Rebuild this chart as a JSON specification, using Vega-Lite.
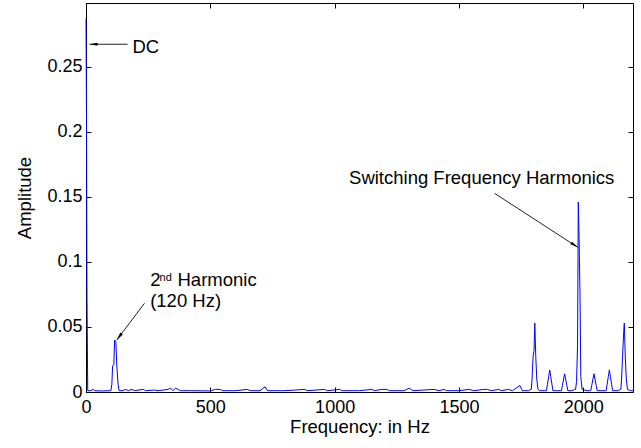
{
  "$schema": "https://vega.github.io/schema/vega-lite/v6.json",
  "width": 547,
  "height": 389,
  "autosize": {"type": "none"},
  "padding": {"left": 86, "top": 3, "right": 8, "bottom": 56},
  "background": "white",
  "config": {
    "view": {"stroke": "black", "strokeWidth": 1},
    "font": "Liberation Sans",
    "axis": {
      "grid": false,
      "domainColor": "black",
      "tickColor": "black",
      "labelColor": "black",
      "titleColor": "black",
      "labelFont": "Liberation Sans",
      "titleFont": "Liberation Sans",
      "labelFontSize": 18,
      "titleFontSize": 18.5,
      "titleFontWeight": "normal",
      "tickSize": -5
    }
  },
  "datasets": {
    "spectrum": [
      {"freq": 0, "amp": 0.287}, {"freq": 2, "amp": 0.214}, {"freq": 4, "amp": 0.072}, {"freq": 7, "amp": 0.001},
      {"freq": 20, "amp": 0.001}, {"freq": 28, "amp": 0.002}, {"freq": 35, "amp": 0.001}, {"freq": 60, "amp": 0.0008},
      {"freq": 95, "amp": 0.001}, {"freq": 100, "amp": 0.001}, {"freq": 104, "amp": 0.006}, {"freq": 107, "amp": 0.02},
      {"freq": 112, "amp": 0.021}, {"freq": 115, "amp": 0.04}, {"freq": 120, "amp": 0.039}, {"freq": 124, "amp": 0.02},
      {"freq": 129, "amp": 0.006}, {"freq": 133, "amp": 0.001}, {"freq": 145, "amp": 0.001}, {"freq": 160, "amp": 0.002},
      {"freq": 170, "amp": 0.001}, {"freq": 185, "amp": 0.002}, {"freq": 195, "amp": 0.001}, {"freq": 230, "amp": 0.002},
      {"freq": 240, "amp": 0.001}, {"freq": 275, "amp": 0.0015}, {"freq": 290, "amp": 0.001}, {"freq": 330, "amp": 0.002},
      {"freq": 340, "amp": 0.003}, {"freq": 350, "amp": 0.001}, {"freq": 360, "amp": 0.003}, {"freq": 370, "amp": 0.002},
      {"freq": 380, "amp": 0.001}, {"freq": 420, "amp": 0.001}, {"freq": 500, "amp": 0.0008}, {"freq": 520, "amp": 0.002},
      {"freq": 540, "amp": 0.002}, {"freq": 550, "amp": 0.001}, {"freq": 600, "amp": 0.001}, {"freq": 650, "amp": 0.002},
      {"freq": 660, "amp": 0.001}, {"freq": 700, "amp": 0.001}, {"freq": 720, "amp": 0.004}, {"freq": 730, "amp": 0.001},
      {"freq": 800, "amp": 0.001}, {"freq": 880, "amp": 0.002}, {"freq": 890, "amp": 0.001}, {"freq": 960, "amp": 0.002},
      {"freq": 970, "amp": 0.001}, {"freq": 1020, "amp": 0.002}, {"freq": 1030, "amp": 0.001}, {"freq": 1100, "amp": 0.001},
      {"freq": 1150, "amp": 0.002}, {"freq": 1160, "amp": 0.001}, {"freq": 1190, "amp": 0.002}, {"freq": 1210, "amp": 0.002},
      {"freq": 1220, "amp": 0.001}, {"freq": 1280, "amp": 0.001}, {"freq": 1300, "amp": 0.003}, {"freq": 1315, "amp": 0.001},
      {"freq": 1400, "amp": 0.002}, {"freq": 1420, "amp": 0.001}, {"freq": 1440, "amp": 0.002}, {"freq": 1450, "amp": 0.001},
      {"freq": 1500, "amp": 0.001}, {"freq": 1540, "amp": 0.002}, {"freq": 1560, "amp": 0.001}, {"freq": 1600, "amp": 0.002},
      {"freq": 1615, "amp": 0.002}, {"freq": 1630, "amp": 0.001}, {"freq": 1660, "amp": 0.002}, {"freq": 1670, "amp": 0.001},
      {"freq": 1700, "amp": 0.002}, {"freq": 1715, "amp": 0.001}, {"freq": 1745, "amp": 0.005}, {"freq": 1755, "amp": 0.001},
      {"freq": 1780, "amp": 0.001}, {"freq": 1789, "amp": 0.002},
      {"freq": 1791, "amp": 0.002}, {"freq": 1794, "amp": 0.01}, {"freq": 1798, "amp": 0.027}, {"freq": 1802, "amp": 0.032},
      {"freq": 1805, "amp": 0.053}, {"freq": 1809, "amp": 0.027}, {"freq": 1813, "amp": 0.01}, {"freq": 1818, "amp": 0.002},
      {"freq": 1825, "amp": 0.001}, {"freq": 1845, "amp": 0.001},
      {"freq": 1852, "amp": 0.001}, {"freq": 1856, "amp": 0.006}, {"freq": 1861, "amp": 0.012}, {"freq": 1865, "amp": 0.017},
      {"freq": 1869, "amp": 0.012}, {"freq": 1874, "amp": 0.006}, {"freq": 1878, "amp": 0.001},
      {"freq": 1895, "amp": 0.001}, {"freq": 1910, "amp": 0.001},
      {"freq": 1912, "amp": 0.001}, {"freq": 1916, "amp": 0.005}, {"freq": 1921, "amp": 0.01}, {"freq": 1925, "amp": 0.014},
      {"freq": 1929, "amp": 0.01}, {"freq": 1934, "amp": 0.005}, {"freq": 1938, "amp": 0.001},
      {"freq": 1955, "amp": 0.001}, {"freq": 1965, "amp": 0.002},
      {"freq": 1969, "amp": 0.002}, {"freq": 1973, "amp": 0.008}, {"freq": 1977, "amp": 0.036}, {"freq": 1980, "amp": 0.146},
      {"freq": 1983, "amp": 0.12}, {"freq": 1987, "amp": 0.073}, {"freq": 1990, "amp": 0.012}, {"freq": 1995, "amp": 0.002},
      {"freq": 2015, "amp": 0.001}, {"freq": 2025, "amp": 0.001},
      {"freq": 2030, "amp": 0.001}, {"freq": 2034, "amp": 0.005}, {"freq": 2039, "amp": 0.01}, {"freq": 2043, "amp": 0.014},
      {"freq": 2047, "amp": 0.01}, {"freq": 2052, "amp": 0.005}, {"freq": 2056, "amp": 0.001},
      {"freq": 2075, "amp": 0.001}, {"freq": 2090, "amp": 0.001},
      {"freq": 2092, "amp": 0.001}, {"freq": 2096, "amp": 0.006}, {"freq": 2101, "amp": 0.012}, {"freq": 2105, "amp": 0.017},
      {"freq": 2109, "amp": 0.012}, {"freq": 2114, "amp": 0.006}, {"freq": 2118, "amp": 0.001},
      {"freq": 2140, "amp": 0.001}, {"freq": 2149, "amp": 0.002},
      {"freq": 2151, "amp": 0.002}, {"freq": 2154, "amp": 0.01}, {"freq": 2158, "amp": 0.027}, {"freq": 2162, "amp": 0.044},
      {"freq": 2165, "amp": 0.053}, {"freq": 2169, "amp": 0.027}, {"freq": 2173, "amp": 0.01}, {"freq": 2178, "amp": 0.002},
      {"freq": 2190, "amp": 0.001}, {"freq": 2200, "amp": 0.001}
    ],
    "arrows": [
      {"name": "dc", "x": 166.9, "y": 0.2673, "x2": 14.1, "y2": 0.2673},
      {"name": "second", "x": 235.3, "y": 0.0682, "x2": 123.9, "y2": 0.04},
      {"name": "switching", "x": 1643.2, "y": 0.1527, "x2": 1978.3, "y2": 0.1112}
    ],
    "labels": [
      {"x": 187, "y": 0.2606, "text": "DC"},
      {"x": 1058, "y": 0.1599, "text": "Switching Frequency Harmonics"},
      {"x": 258, "y": 0.0815, "text": "2"},
      {"x": 368, "y": 0.0815, "text": "Harmonic"},
      {"x": 258, "y": 0.0657, "text": "(120 Hz)"}
    ],
    "superscripts": [
      {"x": 296, "y": 0.0856, "text": "nd"}
    ]
  },
  "layer": [
    {
      "data": {"name": "spectrum"},
      "mark": {"type": "line", "color": "#0000ff", "strokeWidth": 1},
      "encoding": {
        "x": {
          "field": "freq", "type": "quantitative",
          "scale": {"domain": [0, 2200], "nice": false, "zero": false},
          "axis": {"orient": "bottom", "title": "Frequency: in Hz", "values": [0, 500, 1000, 1500, 2000], "format": "d", "labelPadding": 11, "titlePadding": 1, "labelFlush": false, "labelOverlap": false}
        },
        "y": {
          "field": "amp", "type": "quantitative",
          "scale": {"domain": [0, 0.299], "nice": false},
          "axis": {"orient": "left", "title": "Amplitude", "values": [0, 0.05, 0.1, 0.15, 0.2, 0.25], "format": "~g", "labelPadding": 9, "titlePadding": 12, "labelFlush": false, "labelOverlap": false}
        }
      }
    },
    {
      "data": {"name": "spectrum"},
      "mark": {"type": "line", "opacity": 0},
      "encoding": {
        "x": {"field": "freq", "type": "quantitative", "axis": {"orient": "top", "title": null, "labels": false, "domain": false, "values": [0, 500, 1000, 1500, 2000]}},
        "y": {"field": "amp", "type": "quantitative", "axis": {"orient": "right", "title": null, "labels": false, "domain": false, "values": [0, 0.05, 0.1, 0.15, 0.2, 0.25]}}
      }
    },
    {
      "data": {"name": "arrows"},
      "mark": {"type": "rule", "color": "#222222", "strokeWidth": 1},
      "encoding": {
        "x": {"field": "x", "type": "quantitative", "axis": null},
        "y": {"field": "y", "type": "quantitative", "axis": null},
        "x2": {"field": "x2"},
        "y2": {"field": "y2"}
      }
    },
    {
      "data": {"name": "arrows"},
      "transform": [{"filter": "datum.name === 'dc'"}],
      "mark": {"type": "point", "shape": "M0,0L0.4,2L-0.4,2Z", "filled": true, "color": "black", "opacity": 1, "size": 64, "angle": 270},
      "encoding": {
        "x": {"field": "x2", "type": "quantitative", "axis": null},
        "y": {"field": "y2", "type": "quantitative", "axis": null}
      }
    },
    {
      "data": {"name": "arrows"},
      "transform": [{"filter": "datum.name === 'second'"}],
      "mark": {"type": "point", "shape": "M0,0L0.4,2L-0.4,2Z", "filled": true, "color": "black", "opacity": 1, "size": 64, "angle": 217},
      "encoding": {
        "x": {"field": "x2", "type": "quantitative", "axis": null},
        "y": {"field": "y2", "type": "quantitative", "axis": null}
      }
    },
    {
      "data": {"name": "arrows"},
      "transform": [{"filter": "datum.name === 'switching'"}],
      "mark": {"type": "point", "shape": "M0,0L0.4,2L-0.4,2Z", "filled": true, "color": "black", "opacity": 1, "size": 64, "angle": 123},
      "encoding": {
        "x": {"field": "x2", "type": "quantitative", "axis": null},
        "y": {"field": "y2", "type": "quantitative", "axis": null}
      }
    },
    {
      "data": {"name": "labels"},
      "mark": {"type": "text", "align": "left", "baseline": "alphabetic", "font": "Liberation Sans", "fontSize": 18.5, "color": "black"},
      "encoding": {
        "x": {"field": "x", "type": "quantitative", "axis": null},
        "y": {"field": "y", "type": "quantitative", "axis": null},
        "text": {"field": "text"}
      }
    },
    {
      "data": {"name": "superscripts"},
      "mark": {"type": "text", "align": "left", "baseline": "alphabetic", "font": "Liberation Sans", "fontSize": 11, "color": "black"},
      "encoding": {
        "x": {"field": "x", "type": "quantitative", "axis": null},
        "y": {"field": "y", "type": "quantitative", "axis": null},
        "text": {"field": "text"}
      }
    }
  ],
  "resolve": {"axis": {"x": "independent", "y": "independent"}}
}
